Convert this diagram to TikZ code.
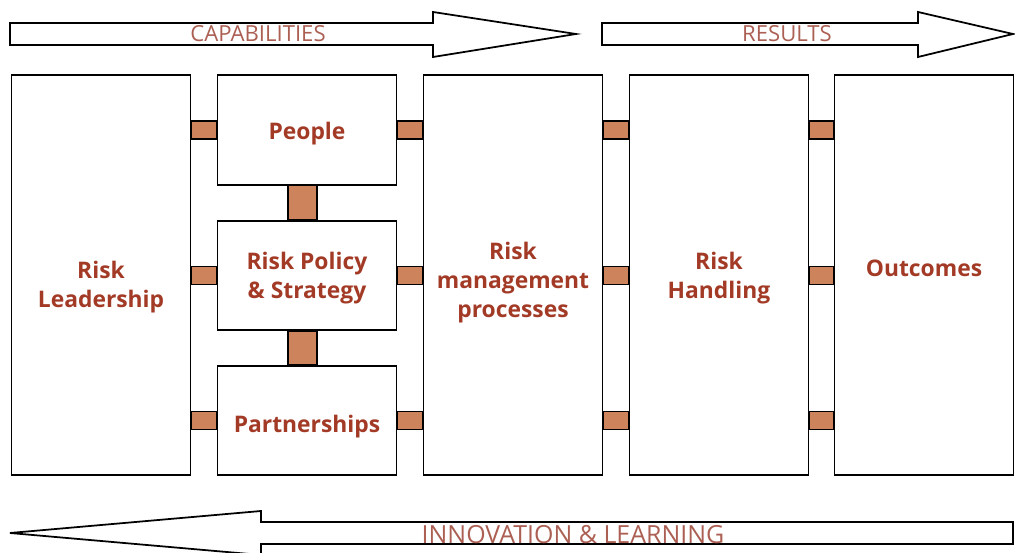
\documentclass[tikz,border=0pt]{standalone}
\usepackage{fontspec}
\setmainfont{Open Sans}
\usetikzlibrary{calc}
\definecolor{RiskText}{RGB}{162,58,38}
\definecolor{RiskLabel}{RGB}{172,96,84}
\definecolor{RiskLink}{RGB}{205,132,92}
% lines of a box, lowered a little
\newcommand{\boxlines}[2]{\raisebox{#1}[\height][\depth]{\begin{tabular}{@{}c@{}}#2\end{tabular}}}

\begin{document}
\begin{tikzpicture}[x=0.02cm, y=-0.02cm]
      \tikzset{ box/.style  ={draw=black, line width=1pt, rectangle, minimum width=3.58cm, text=RiskText, font=\fontsize{13}{16.5}\selectfont\bfseries} }
      \tikzset{ tall/.style ={box, minimum height=8cm   } }
      \tikzset{ short/.style={box, minimum height=2.19cm} }
      \tikzset{ link/.style ={draw=black, line width=1pt, fill=RiskLink} }
      \tikzset{ band/.style ={draw=black, line width=1pt, fill=white, line join=miter} }
      \tikzset{ tag/.style  ={text=RiskLabel, font=\fontsize{12.6}{14}\selectfont} }

      \path[use as bounding box] (0,0) rectangle (1015,553);

      % big arrows
      \draw[band] (10,23) -- (433,23) -- (433,12) -- (576,34) -- (433,57) -- (433,45) -- (10,45) -- cycle;
      \draw[band] (602,23) -- (918,23) -- (918,12) -- (1013,34) -- (918,57) -- (918,45) -- (602,45) -- cycle;
      \draw[band] (1013,522) -- (261,522) -- (261,511) -- (10,533) -- (261,555) -- (261,544) -- (1013,544) -- cycle;

      \node[tag] (cap) at (258, 34) {CAPABILITIES};
      \node[tag] (res) at (787, 34) {RESULTS};
      \node[tag, font=\fontsize{14.2}{16}\selectfont] (inl) at (573, 535) {INNOVATION \& LEARNING};

      % boxes
      \node[tall ] (lead) at (101, 275  ) {\boxlines{-6.8pt}{Risk\\Leadership}};
      \node[short] (ppl)  at (307, 130  ) {\boxlines{-2.3pt}{People}};
      \node[short] (pol)  at (307, 275.5) {\boxlines{-1.7pt}{Risk Policy\\\& Strategy}};
      \node[short] (prt)  at (307, 420.5) {\boxlines{-3.4pt}{Partnerships}};
      \node[tall ] (mgmt) at (513, 275  ) {\boxlines{-4.5pt}{Risk\\management\\processes}};
      \node[tall ] (hdl)  at (719, 275  ) {\boxlines{-1.7pt}{Risk\\Handling}};
      \node[tall ] (out)  at (924, 275  ) {\boxlines{2.3pt}{Outcomes}};

      % links between boxes
      \foreach \a/\b/\r in {lead/ppl/ppl, lead/pol/pol, lead/prt/prt,
                            ppl/mgmt/ppl, pol/mgmt/pol, prt/mgmt/prt,
                            mgmt/hdl/ppl, mgmt/hdl/pol, mgmt/hdl/prt,
                            hdl/out/ppl, hdl/out/pol, hdl/out/prt}
        \draw[link] ($(\a.east |- \r)+(0,-9)$) rectangle ($(\b.west |- \r)+(0,9)$);
      \draw[link] ($(ppl.south)+(-19,0)$) rectangle ($(pol.north)+(10,0)$);
      \draw[link] ($(pol.south)+(-19,0)$) rectangle ($(prt.north)+(10,0)$);
    \end{tikzpicture}
\end{document}
